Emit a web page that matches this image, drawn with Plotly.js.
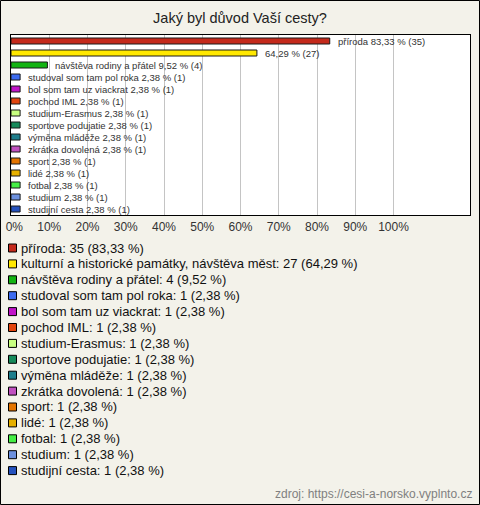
<!DOCTYPE html>
<html>
<head>
<meta charset="utf-8">
<script src="https://cdn.plot.ly/plotly-3.0.1.min.js"></script>
<style>
  html, body { margin: 0; padding: 0; background: #F3F2EA; }
  #chart { width: 480px; height: 505px; }
</style>
</head>
<body>
<div id="chart"></div>
<script>
// ---- data ----
const categories = [
  "příroda",
  "kulturní a historické památky, návštěva měst",
  "návštěva rodiny a přátel",
  "studoval som tam pol roka",
  "bol som tam uz viackrat",
  "pochod IML",
  "studium-Erasmus",
  "sportove podujatie",
  "výměna mláděže",
  "zkrátka dovolená",
  "sport",
  "lidé",
  "fotbal",
  "studium",
  "studijní cesta"
];
const counts = [35, 27, 4, 1, 1, 1, 1, 1, 1, 1, 1, 1, 1, 1, 1];
const percents = [83.33, 64.29, 9.52, 2.38, 2.38, 2.38, 2.38, 2.38, 2.38, 2.38, 2.38, 2.38, 2.38, 2.38, 2.38];
const percentText = ["83,33", "64,29", "9,52", "2,38", "2,38", "2,38", "2,38", "2,38", "2,38", "2,38", "2,38", "2,38", "2,38", "2,38", "2,38"];
const barLabelNames = [
  "příroda", "", "návštěva rodiny a přátel", "studoval som tam pol roka",
  "bol som tam uz viackrat", "pochod IML", "studium-Erasmus", "sportove podujatie",
  "výměna mláděže", "zkrátka dovolená", "sport", "lidé", "fotbal", "studium", "studijní cesta"
];
const colors = [
  "#C42A1C", "#FFE800", "#12B312", "#3C6BF0", "#C014C8", "#E2450F", "#C8FF80",
  "#168A5A", "#1E7E8C", "#C050C0", "#E47400", "#E6B000", "#44EE44", "#6C90DE", "#2552BE"
];
const tickValues = [0, 10, 20, 30, 40, 50, 60, 70, 80, 90, 100];
const tickLabels = ["\u00a0\u00a00%", "10%", "20%", "30%", "40%", "50%", "60%", "70%", "80%", "90%", "100%"];
const titleText = "Jaký byl důvod Vaší cesty?";
const sourceText = "zdroj: https://cesi-a-norsko.vyplnto.cz";

// ---- layout geometry (pixels) ----
const W = 480, H = 505;
const M = { l: 11, r: 10, t: 35, b: 290 };
const plotW = W - M.l - M.r, plotH = H - M.t - M.b;
const pxX = px => (px - M.l) / plotW;
const pxY = py => (H - M.b - py) / plotH;

const FONT = "Liberation Sans, Arial, sans-serif";

const annotations = [];
const shapes = [];

// bar value labels (positioned on data coordinates)
categories.forEach((c, i) => {
  const nm = barLabelNames[i];
  annotations.push({
    x: percents[i], y: c, xref: "x", yref: "y",
    text: (nm ? nm + " " : "") + percentText[i] + " % (" + counts[i] + ")",
    showarrow: false, xanchor: "left", yanchor: "middle", xshift: 6,
    font: { family: FONT, size: 9.5, color: "#333" }
  });
});

// custom legend below the plot
const legTop = 248, legStep = 15.9;
categories.forEach((c, i) => {
  const cy = legTop + i * legStep;
  shapes.push({
    type: "rect", xref: "paper", yref: "paper",
    x0: pxX(8.5), x1: pxX(16.5), y0: pxY(cy - 4), y1: pxY(cy + 4),
    fillcolor: colors[i], line: { color: "#000", width: 1 }
  });
  annotations.push({
    x: pxX(18.5), y: pxY(cy), xref: "paper", yref: "paper",
    text: c + ": " + counts[i] + " (" + percentText[i] + " %)",
    showarrow: false, xanchor: "left", yanchor: "middle",
    font: { family: FONT, size: 13, color: "#111" }
  });
});

// source note
annotations.push({
  x: pxX(474), y: pxY(494), xref: "paper", yref: "paper",
  text: sourceText, showarrow: false, xanchor: "right", yanchor: "middle",
  font: { family: FONT, size: 12, color: "#808080" }
});

// outer frame
shapes.push({
  type: "rect", xref: "paper", yref: "paper",
  x0: pxX(0.5), x1: pxX(479.5), y0: pxY(0.5), y1: pxY(504.5),
  line: { color: "#000", width: 1 }, fillcolor: "rgba(0,0,0,0)"
});

const trace = {
  type: "bar",
  orientation: "h",
  y: categories,
  x: percents,
  width: 0.5,
  marker: { color: colors, line: { color: "#1a1a1a", width: 1 } },
  hoverinfo: "none"
};

const layout = {
  width: W, height: H,
  margin: M,
  paper_bgcolor: "#F3F2EA",
  plot_bgcolor: "#FFFFFF",
  showlegend: false,
  title: {
    text: titleText, x: 0.5, xanchor: "center",
    y: 1 - 18 / H, yanchor: "middle", yref: "container",
    font: { family: FONT, size: 14.5, color: "#222" }
  },
  xaxis: {
    range: [0, 120], tickvals: tickValues, ticktext: tickLabels,
    showgrid: true, gridcolor: "#C4C4C4", gridwidth: 1,
    zeroline: false, showline: true, mirror: true, linecolor: "#000", linewidth: 1,
    ticks: "", ticklabelstandoff: 1, ticklabeloverflow: "allow",
    tickfont: { family: FONT, size: 12, color: "#333" }
  },
  yaxis: {
    type: "category", autorange: false, range: [categories.length - 0.5, -0.5],
    showticklabels: false, showgrid: false, zeroline: false,
    showline: true, mirror: true, linecolor: "#000", linewidth: 1, ticks: ""
  },
  annotations: annotations,
  shapes: shapes
};

Plotly.newPlot("chart", [trace], layout, { displayModeBar: false, staticPlot: true });
</script>
</body>
</html>
